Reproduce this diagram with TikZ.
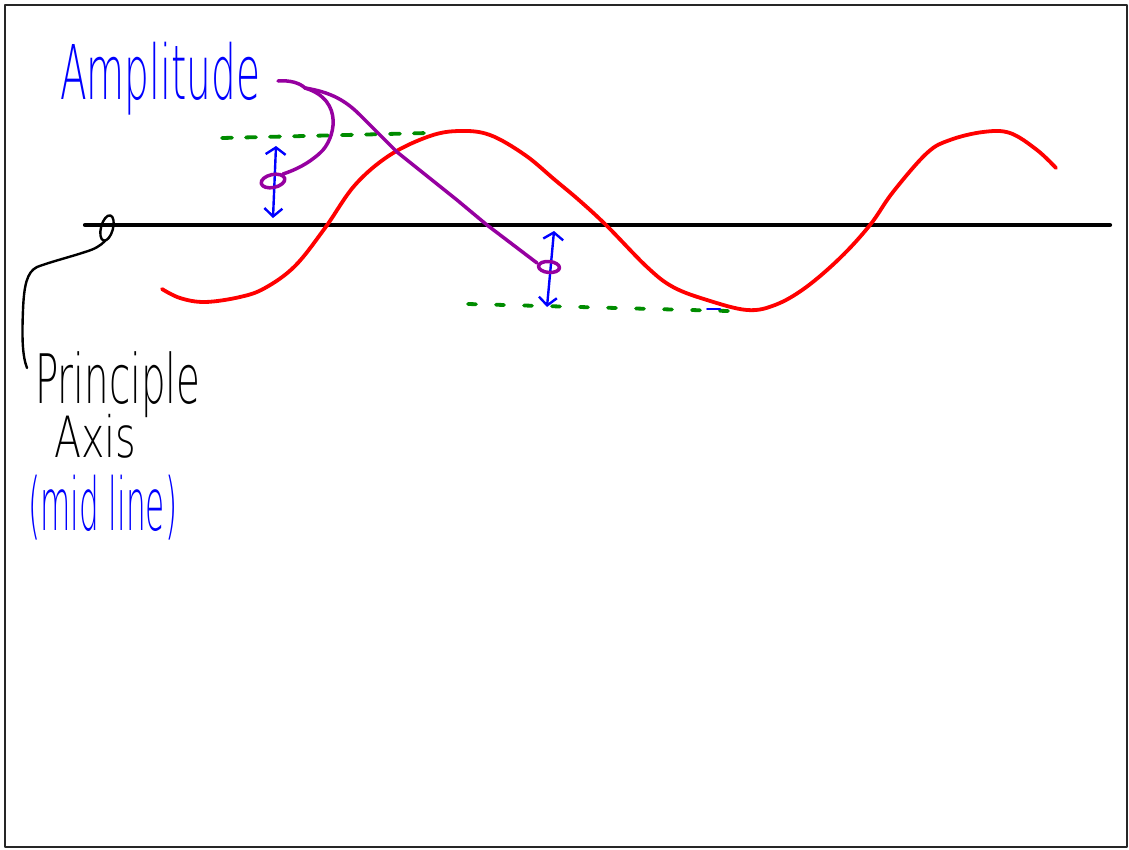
\documentclass[tikz,border=0pt]{standalone}
\usepackage{graphicx}
\usepackage{fontspec}
\setmainfont{DejaVu Sans}[UprightFont={* ExtraLight}]
\usetikzlibrary{arrows.meta}
\definecolor{wavered}{RGB}{255,0,0}
\definecolor{penpurple}{RGB}{150,0,160}
\definecolor{pengreen}{RGB}{0,140,0}
\definecolor{penblue}{RGB}{0,0,255}
\begin{document}
\begin{tikzpicture}[x=1pt,y=-1pt,line cap=round,line join=round,
  frame/.style={draw=black!85,line width=2pt},
  handtext/.style={inner sep=0pt,anchor=north west},
  axisline/.style={draw=black,line width=4.2pt},
  wave/.style={draw=wavered,line width=3.8pt},
  purplepen/.style={draw=penpurple,line width=3.5pt},
  greendash/.style={draw=pengreen,line width=3.8pt},
  bluearrow/.style={draw=penblue,line width=2.4pt,
     {Straight Barb[length=7pt,width=20pt,line width=2.4pt]}-{Straight Barb[length=8pt,width=18pt,line width=2.4pt]}},
  leader/.style={draw=black,line width=2.4pt}]
\useasboundingbox (0,0) rectangle (1129,849);
\draw[frame] (5,5) rectangle (1127,847);

% texts
\node[handtext,text=penblue] (amp) at (60,42) {\resizebox*{200pt}{73pt}{Amplitude}};
\node[handtext,text=black] (prin) at (35,351) {\resizebox*{165pt}{66pt}{Principle}};
\node[handtext,text=black] (axis) at (54,414) {\resizebox*{82pt}{44pt}{Axis}};
\node[handtext,text=penblue] (mid) at (28,475) {\resizebox*{149pt}{65pt}{(mid line)}};

% principal axis
\coordinate (axL) at (85,225);
\coordinate (axR) at (1110,225);
\draw[axisline] (axL) -- (axR);

% red wave
\draw[wave] plot[smooth,tension=0.6] coordinates {
 (162,289) (180,298) (205,302) (240,297) (265,288) (295,266) (325,228) (355,185)
 (390,155) (430,136) (460,131) (490,135) (525,155) (555,180) (580,201) (607,226)
 (647,267) (673,287) (707,300) (747,310) (775,305) (805,288) (840,258) (870,225)
 (893,192) (927,153) (950,140) (983,132) (1010,133) (1037,150) (1056,168)};

% green dashed extremes
\coordinate (gTa) at (222,138);
\coordinate (gTb) at (428,133);
\draw[greendash,dash pattern=on 10pt off 14pt] (gTa) -- (gTb);
\coordinate (gBa) at (468,304);
\coordinate (gBb) at (728,311);
\draw[greendash,dash pattern=on 8pt off 20pt] (gBa) -- (gBb);
\coordinate (bd1) at (707,309);
\coordinate (bd2) at (720,309);
\draw[draw=penblue,line width=2pt] (bd1) -- (bd2);

% blue amplitude arrows
\coordinate (a1t) at (276,146);
\coordinate (a1b) at (273,218);
\draw[bluearrow] (a1t) -- (a1b);
\coordinate (a2t) at (554,231);
\coordinate (a2b) at (547,307);
\draw[bluearrow] (a2t) -- (a2b);

% purple pointers from "Amplitude"
\coordinate (p0) at (278,81);
\coordinate (pb) at (305,88);
\coordinate (e1) at (273,181);
\coordinate (e2) at (549,267);
\draw[purplepen] (p0) .. controls (290,80) and (300,83) .. (pb)
   .. controls (345,100) and (335,140) .. (320,153)
   .. controls (308,164) and (295,170) .. (283,174);
\draw[purplepen] (pb) .. controls (330,92) and (345,100) .. (360,115)
   -- (397,152) -- (457,200) -- (487,225) -- (537,263);
\draw[purplepen,rotate around={12:(e1)}] (e1) ellipse [x radius=12,y radius=6.5];
\draw[purplepen,rotate around={-5:(e2)}] (e2) ellipse [x radius=10.5,y radius=5.5];

% black pointer to axis
\coordinate (le) at (107,228);
\draw[leader,rotate around={-15:(le)}] (le) ellipse [x radius=6,y radius=13];
\draw[leader] (105,241) .. controls (100,246) and (95,249) .. (85,252)
  .. controls (70,257) and (50,262) .. (37,267)
  .. controls (27,272) and (24,285) .. (23,310)
  .. controls (22,335) and (22,355) .. (27,368);
\end{tikzpicture}
\end{document}
